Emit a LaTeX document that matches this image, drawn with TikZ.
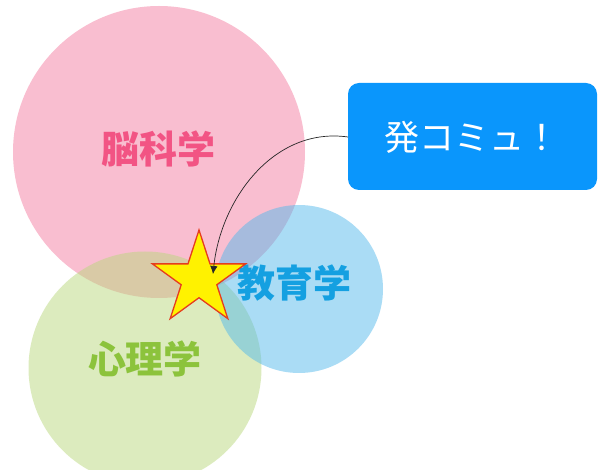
\documentclass[tikz,border=0pt]{standalone}
\usepackage{fontspec}
\usetikzlibrary{shapes.geometric,arrows.meta}
\newfontfamily\jp{Noto Sans CJK JP}
\definecolor{pinkc}{RGB}{243,125,161}
\definecolor{greenc}{RGB}{185,215,125}
\definecolor{bluec}{RGB}{85,185,235}
\definecolor{pinkt}{RGB}{242,84,132}
\definecolor{greent}{RGB}{140,195,60}
\definecolor{bluet}{RGB}{20,160,225}
\definecolor{boxc}{RGB}{10,150,252}
\definecolor{starb}{RGB}{230,60,30}
\tikzset{
  field/.style={circle, inner sep=0pt, fill opacity=0.5},
  fieldlabel/.style={font=\jp\bfseries\fontsize{38}{40}\selectfont, inner sep=0pt},
  callout/.style={rounded corners=11pt, fill=boxc},
  callouttext/.style={font=\jp\fontsize{35}{38}\selectfont, text=white, inner sep=0pt},
  starmark/.style={star, star points=5, star point ratio=2.618, minimum size=98pt,
    inner sep=0pt, fill=yellow, draw=starb, line width=1.3pt},
  link/.style={-{Latex[length=8pt,width=7.5pt]}, draw=black!85, line width=0.7pt}
}
\begin{document}
\begin{tikzpicture}[x=1pt,y=-1pt]
\useasboundingbox (0,0) rectangle (598,470);
\node[field, minimum size=292pt, fill=pinkc] (brain) at (159,152) {};
\node[field, minimum size=233pt, fill=greenc] (psych) at (145,368) {};
\node[field, minimum size=168pt, fill=bluec] (edu) at (299,289) {};
\node[fieldlabel, text=pinkt] (brainlabel) at (158,149) {脳科学};
\node[fieldlabel, text=greent] (psychlabel) at (145,359) {心理学};
\node[fieldlabel, text=bluet] (edulabel) at (294,283) {教育学};
\node[starmark] (star) at (199,279) {};
\path[callout] (348,83) rectangle (597,190);
\node[callouttext] (box) at (472,137) {発コミュ！};
\coordinate (boxwest) at (348,137);
\coordinate (tip) at (213,274);
\draw[link] (boxwest) to[out=172,in=84] (tip);
\end{tikzpicture}
\end{document}
